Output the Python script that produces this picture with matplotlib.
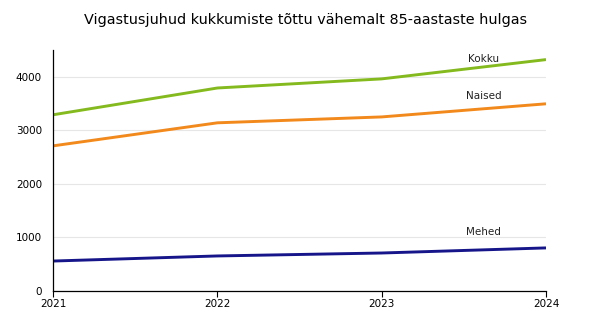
import matplotlib
matplotlib.use("Agg")
import matplotlib.pyplot as plt

years = [2021, 2022, 2023, 2024]
kokku = [3290, 3790, 3960, 4320]
naised = [2710, 3140, 3250, 3495]
mehed = [560, 655, 710, 805]

series_names = ["Kokku", "Naised", "Mehed"]
series_colors = ["#84BA1E", "#F2891C", "#16168A"]
label_y = [4340, 3640, 1100]

fig = plt.figure(figsize=(5.89, 3.33), dpi=100)
ax = fig.add_axes([0.09, 0.126, 0.837, 0.724])

for vals, name, col, ly in zip([kokku, naised, mehed], series_names, series_colors, label_y):
  ax.plot(years, vals, color=col, linewidth=2.1, solid_capstyle="butt")
  ax.text(2023.62, ly, name, fontsize=7.5, color="#222222", ha="center", va="center")

ax.set_xlim(2021, 2024)
ax.set_ylim(0, 4500)
ax.set_xticks(years)
ax.set_yticks([0, 1000, 2000, 3000, 4000])
ax.tick_params(axis="x", length=4, width=0.8, labelsize=7.5, pad=2)
ax.tick_params(axis="y", length=0, labelsize=7.5, pad=8)
ax.grid(axis="y", color="#e6e6e6", linewidth=0.8)
ax.set_axisbelow(True)
for s in ["top", "right"]:
  ax.spines[s].set_visible(False)
ax.spines["left"].set_linewidth(0.9)
ax.spines["bottom"].set_linewidth(0.9)

fig.text(0.518, 0.94, "Vigastusjuhud kukkumiste tõttu vähemalt 85-aastaste hulgas",
         fontsize=10.4, ha="center", va="center")

fig.savefig("out.png", dpi=100)
